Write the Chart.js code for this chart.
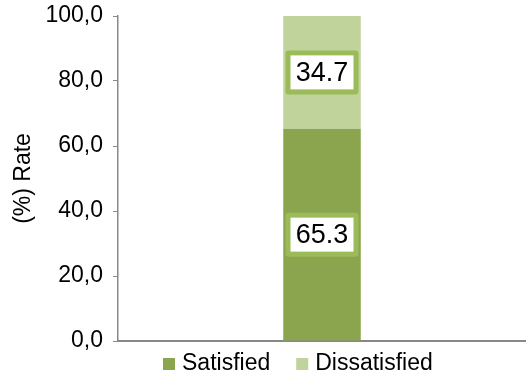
<!DOCTYPE html>
<html>
<head>
<meta charset="utf-8">
<script src="https://cdn.jsdelivr.net/npm/chart.js@4.4.1/dist/chart.umd.min.js"></script>
<style>
  html, body { margin: 0; padding: 0; background: #fff; }
  #wrap { width: 526px; height: 380px; }
</style>
</head>
<body>
<div id="wrap"><canvas id="chart" width="526" height="380"></canvas></div>
<script>
// Survey result, one stacked column
const categories = [''];
const satisfied = [65.3];
const dissatisfied = [34.7];
const yTicks = [0, 20, 40, 60, 80, 100];

const FONT = "'Liberation Sans', Arial, sans-serif";

// Boxed value labels in the middle of each bar segment
const boxLabels = {
    id: 'boxLabels',
    afterDatasetsDraw(chart) {
        const ctx = chart.ctx;
        chart.data.datasets.forEach((ds, i) => {
            const meta = chart.getDatasetMeta(i);
            meta.data.forEach((bar, j) => {
                const cx = bar.x;
                const cy = (bar.y + bar.base) / 2;
                const w = 73, h = 44, bw = 5;
                ctx.save();
                ctx.fillStyle = '#9bbb59';
                ctx.beginPath();
                ctx.roundRect(cx - w / 2, cy - h / 2, w, h, 3);
                ctx.fill();
                ctx.fillStyle = '#ffffff';
                ctx.fillRect(cx - w / 2 + bw, cy - h / 2 + bw, w - 2 * bw, h - 2 * bw);
                ctx.fillStyle = '#000000';
                ctx.font = '27px ' + FONT;
                ctx.textAlign = 'center';
                ctx.textBaseline = 'middle';
                ctx.fillText(ds.data[j].toFixed(1), cx, cy + 1);
                ctx.restore();
            });
        });
    }
};

// Legend row under the axis, tighter than the built-in one
const bottomLegend = {
    id: 'bottomLegend',
    afterDraw(chart) {
        const ctx = chart.ctx;
        const area = chart.chartArea;
        const y = area.bottom + 23;
        let x = area.left + 45;
        ctx.save();
        ctx.font = '23px ' + FONT;
        ctx.textBaseline = 'middle';
        ctx.textAlign = 'left';
        chart.data.datasets.forEach(ds => {
            ctx.fillStyle = ds.backgroundColor;
            ctx.fillRect(x, y - 6, 12, 12);
            x += 19;
            ctx.fillStyle = '#000000';
            ctx.fillText(ds.label, x, y);
            x += ctx.measureText(ds.label).width + 26;
        });
        ctx.restore();
    }
};

new Chart(document.getElementById('chart'), {
    type: 'bar',
    data: {
        labels: categories,
        datasets: [
            { label: 'Satisfied', data: satisfied, backgroundColor: '#8ba54f' },
            { label: 'Dissatisfied', data: dissatisfied, backgroundColor: '#bfd39b' }
        ]
    },
    options: {
        responsive: false,
        animation: false,
        events: [],
        layout: { padding: { top: 16, right: 0, bottom: 38, left: 0 } },
        datasets: { bar: { barPercentage: 0.19, categoryPercentage: 1 } },
        plugins: {
            legend: { display: false },
            tooltip: { enabled: false }
        },
        scales: {
            x: {
                stacked: true,
                ticks: { display: false },
                grid: { display: false },
                border: { color: '#888888', width: 2 },
                afterFit: axis => { axis.height = 1; }
            },
            y: {
                stacked: true,
                min: 0,
                max: 100,
                afterBuildTicks: axis => { axis.ticks = yTicks.map(v => ({ value: v })); },
                afterFit: axis => {
                    axis.width = 118;
                    axis.paddingTop = 0;
                    axis.paddingBottom = 0;
                },
                ticks: {
                    color: '#000',
                    padding: 10,
                    font: { family: FONT, size: 23 },
                    callback: v => v.toFixed(1).replace('.', ',')
                },
                grid: { drawOnChartArea: false, drawTicks: true, tickLength: 5, color: '#888888' },
                border: { color: '#888888', width: 1.5 },
                title: {
                    display: true,
                    text: '(%) Rate',
                    color: '#000',
                    padding: { top: 10, bottom: 4 },
                    font: { family: FONT, size: 23 }
                }
            }
        }
    },
    plugins: [boxLabels, bottomLegend]
});
</script>
</body>
</html>
